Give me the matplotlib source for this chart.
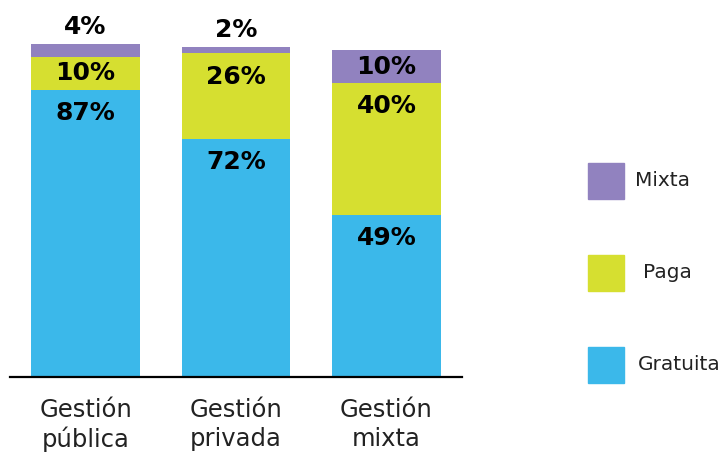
import matplotlib
matplotlib.use("Agg")
import matplotlib.pyplot as plt
from matplotlib.patches import Rectangle

categories = ["Gestión\npública", "Gestión\nprivada", "Gestión\nmixta"]
gratuita = [87, 72, 49]
paga = [10, 26, 40]
mixta = [4, 2, 10]

series = [
    ("Gratuita", gratuita, "#3BB8EA"),
    ("Paga", paga, "#D6DF30"),
    ("Mixta", mixta, "#9182BF"),
]

fig = plt.figure(figsize=(7.26, 4.53), dpi=100)
ax = fig.add_axes([10 / 726, 76 / 453, 452 / 726, 377 / 453])

x = list(range(len(categories)))
width = 0.724
bottom = [0] * len(categories)
for name, values, color in series:
    ax.bar(x, values, width, bottom=bottom, color=color, label=name)
    for i, v in enumerate(values):
        top = bottom[i] + v
        if v >= 20:
            y = top - 7
        elif v >= 5:
            y = bottom[i] + v / 2
        else:
            y = top + 5
        ax.text(i, y, f"{v}%", ha="center", va="center",
                fontsize=18, fontweight="bold", color="black")
    bottom = [b + v for b, v in zip(bottom, values)]

ax.set_xlim(-0.502, 2.502)
ax.set_ylim(0, 114.2)
ax.set_xticks(x)
ax.set_xticklabels(categories, fontsize=17.5, color="#222222", linespacing=1.25)
ax.tick_params(axis="x", length=0, pad=15)
ax.set_yticks([])
for s in ["top", "right", "left"]:
    ax.spines[s].set_visible(False)
ax.spines["bottom"].set_linewidth(1.6)
ax.spines["bottom"].set_color("black")

# legend drawn as squares in figure coords
legend_items = [("Mixta", "#9182BF", 181, 635), ("Paga", "#D6DF30", 273, 643),
                ("Gratuita", "#3BB8EA", 365, 638)]
for name, color, yc, xt in legend_items:
    fig.patches.append(Rectangle((588 / 726, (453 - yc - 18) / 453), 36 / 726, 36 / 453,
                                 transform=fig.transFigure, color=color))
    fig.text(xt / 726, (453 - yc) / 453, name, fontsize=14.5, color="#222222",
             ha="left", va="center")

fig.savefig("out.png", dpi=100)
